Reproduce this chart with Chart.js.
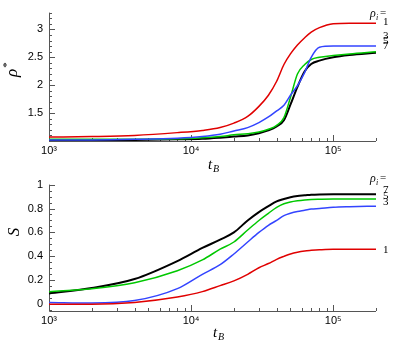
<!DOCTYPE html>
<html>
<head>
<meta charset="utf-8">
<script src="https://cdn.jsdelivr.net/npm/chart.js@4/dist/chart.umd.min.js"></script>
<style>
  html, body { margin: 0; padding: 0; background: #fff; }
  canvas { display: block; }
</style>
</head>
<body>
<canvas id="chartRho" width="395" height="172"></canvas>
<canvas id="chartS" width="395" height="173"></canvas>
<script>
// time grid shared by both panels (t_B)
const tB = [1000, 2000, 4000, 8000, 12000, 16000, 20000, 25000, 30000, 35000, 40000, 45000, 50000, 56000, 63000, 70000, 80000, 100000, 130000, 200000];

// top panel: rho*
const rho_1 = [1.07, 1.08, 1.10, 1.15, 1.19, 1.24, 1.32, 1.44, 1.62, 1.82, 2.07, 2.37, 2.56, 2.72, 2.85, 2.95, 3.03, 3.10, 3.11, 3.11];
const rho_3 = [1.02, 1.02, 1.03, 1.05, 1.08, 1.12, 1.18, 1.24, 1.33, 1.43, 1.54, 1.64, 1.82, 1.99, 2.23, 2.50, 2.68, 2.70, 2.70, 2.70];
const rho_5 = [1.03, 1.03, 1.03, 1.04, 1.06, 1.08, 1.11, 1.13, 1.16, 1.21, 1.28, 1.42, 1.78, 2.20, 2.37, 2.46, 2.50, 2.53, 2.56, 2.60];
const rho_7 = [1.01, 1.01, 1.02, 1.03, 1.04, 1.06, 1.08, 1.10, 1.14, 1.19, 1.26, 1.37, 1.65, 1.97, 2.25, 2.38, 2.44, 2.50, 2.54, 2.58];

// bottom panel: S
const S_1 = [0.00, 0.00, 0.015, 0.06, 0.105, 0.155, 0.195, 0.25, 0.305, 0.34, 0.375, 0.40, 0.42, 0.435, 0.445, 0.45, 0.455, 0.46, 0.46, 0.46];
const S_3 = [0.015, 0.01, 0.03, 0.13, 0.25, 0.33, 0.42, 0.52, 0.60, 0.66, 0.70, 0.74, 0.76, 0.775, 0.785, 0.795, 0.80, 0.81, 0.815, 0.82];
const S_5 = [0.105, 0.13, 0.18, 0.28, 0.37, 0.46, 0.52, 0.62, 0.70, 0.76, 0.81, 0.84, 0.855, 0.865, 0.872, 0.876, 0.878, 0.88, 0.88, 0.88];
const S_7 = [0.09, 0.135, 0.21, 0.36, 0.47, 0.54, 0.60, 0.70, 0.77, 0.82, 0.86, 0.88, 0.895, 0.905, 0.91, 0.915, 0.918, 0.92, 0.92, 0.92];

const rhoLabels = ["1", "3", "5", "7"];
const xMajor = [1000, 10000, 100000];
const xLabels = { 1000: "10\u00B3", 10000: "10\u2074", 100000: "10\u2075" };
const rhoTicks = [1.5, 2, 2.5, 3];
const sTicks = [0, 0.2, 0.4, 0.6, 0.8, 1];

const colors = ["#e00000", "#3344ff", "#00c800", "#000000"];
const widths = [1.5, 1.5, 1.5, 2];

const pts = arr => arr.map((v, i) => ({ x: tB[i], y: v }));

// axis lines + inward ticks, axis titles, right-hand labels
const framePlugin = {
  id: "frame",
  beforeDatasetsDraw(chart) {
    const { ctx, chartArea: a, scales: { x, y } } = chart;
    const o = chart.options.plugins.frame;
    ctx.save();
    ctx.strokeStyle = "#555";
    ctx.lineWidth = 1;
    ctx.beginPath();
    ctx.moveTo(a.left + 0.5, a.top);
    ctx.lineTo(a.left + 0.5, a.bottom + 0.5);
    ctx.lineTo(a.right, a.bottom + 0.5);
    for (let d = 1000; d <= 100000; d *= 10) {
      for (let m = 1; m <= 9; m++) {
        const v = d * m;
        if (v > x.max) break;
        const px = Math.round(x.getPixelForValue(v)) + 0.5;
        ctx.moveTo(px, a.bottom);
        ctx.lineTo(px, a.bottom - (m === 1 ? 6 : 3));
      }
    }
    for (let k = o.minorFrom; k <= o.minorTo; k++) {
      const v = k * o.minorStep;
      const py = Math.round(y.getPixelForValue(v)) + 0.5;
      if (py < a.top - 1 || py > a.bottom + 1) continue;
      const major = k % o.majorEvery === 0;
      ctx.moveTo(a.left, py);
      ctx.lineTo(a.left + (major ? 6 : 3), py);
    }
    ctx.stroke();
    ctx.restore();
  },
  afterDraw(chart) {
    const { ctx } = chart;
    const o = chart.options.plugins.frame;
    ctx.save();
    ctx.fillStyle = "#000";
    // x title t_B
    ctx.textBaseline = "alphabetic";
    ctx.textAlign = "left";
    ctx.font = "italic 15px 'Liberation Serif'";
    ctx.fillText("t", o.tx, o.ty);
    ctx.font = "italic 10px 'Liberation Serif'";
    ctx.fillText("B", o.tx + 5, o.ty + 3);
    // y title
    ctx.translate(o.yx, o.yy);
    ctx.rotate(-Math.PI / 2);
    ctx.textAlign = "center";
    ctx.font = "italic 17px 'Liberation Serif'";
    ctx.fillText(o.yTitle, 0, 0);
    if (o.yStar) {
      ctx.font = "11px 'Liberation Serif'";
      ctx.fillText("*", 8, -7);
    }
    ctx.setTransform(1, 0, 0, 1, 0, 0);
    // legend-like labels at right
    ctx.textAlign = "left";
    ctx.font = "italic 12px 'Liberation Serif'";
    ctx.fillText("\u03C1", o.hx, o.hy);
    ctx.font = "italic 8px 'Liberation Serif'";
    ctx.fillText("i", o.hx + 6, o.hy + 3);
    ctx.font = "11px 'Liberation Serif'";
    ctx.fillText("=", o.hx + 10, o.hy - 1);
    o.lab.forEach((yy, i) => ctx.fillText(rhoLabels[i], 383, yy));
    ctx.restore();
  }
};

function makeChart(id, series, yMin, yMax, yTicks, frame, padTop, xH) {
  return new Chart(document.getElementById(id), {
    type: "line",
    data: {
      datasets: series.map((s, i) => ({
        data: pts(s),
        borderColor: colors[i],
        borderWidth: widths[i],
        pointRadius: 0,
        fill: false,
        cubicInterpolationMode: "monotone"
      }))
    },
    options: {
      responsive: false,
      animation: false,
      layout: { padding: { left: 0, right: 19, top: padTop, bottom: 0 } },
      plugins: { legend: { display: false }, tooltip: { enabled: false }, frame: frame },
      scales: {
        x: {
          type: "logarithmic",
          min: 1000, max: 200000,
          grid: { display: false, drawTicks: false },
          border: { display: false },
          afterBuildTicks: s => { s.ticks = xMajor.map(v => ({ value: v })); },
          afterFit: s => { s.height = xH; },
          ticks: {
            autoSkip: false, maxRotation: 0, padding: 3, color: "#000",
            font: { family: "Liberation Sans", size: 11 },
            callback: v => xLabels[v] || ""
          }
        },
        y: {
          type: "linear",
          min: yMin, max: yMax,
          grid: { display: false, drawTicks: false },
          border: { display: false },
          afterBuildTicks: s => { s.ticks = yTicks.map(v => ({ value: v })); },
          afterFit: s => { s.width = 49; },
          ticks: {
            padding: 6, color: "#000",
            font: { family: "Liberation Sans", size: 11 },
            callback: v => String(v)
          }
        }
      }
    },
    plugins: [framePlugin]
  });
}

makeChart("chartRho", [rho_1, rho_3, rho_5, rho_7], 1.0, 3.3, rhoTicks, {
  minorFrom: 10, minorTo: 33, minorStep: 0.1, majorEvery: 5,
  tx: 208, ty: 169, yx: 17, yy: 73, yTitle: "\u03C1", yStar: true,
  hx: 370, hy: 17, lab: [25, 39, 44, 49]
}, 10, 31);

makeChart("chartS", [S_1, S_3, S_5, S_7], -0.057, 1.0, sTicks, {
  minorFrom: -1, minorTo: 20, minorStep: 0.05, majorEvery: 4,
  tx: 213, ty: 165, yx: 19, yy: 60, yTitle: "S", yStar: false,
  hx: 370, hy: 10, lab: [81, 33, 27, 21]
}, 9, 34);
</script>
</body>
</html>
